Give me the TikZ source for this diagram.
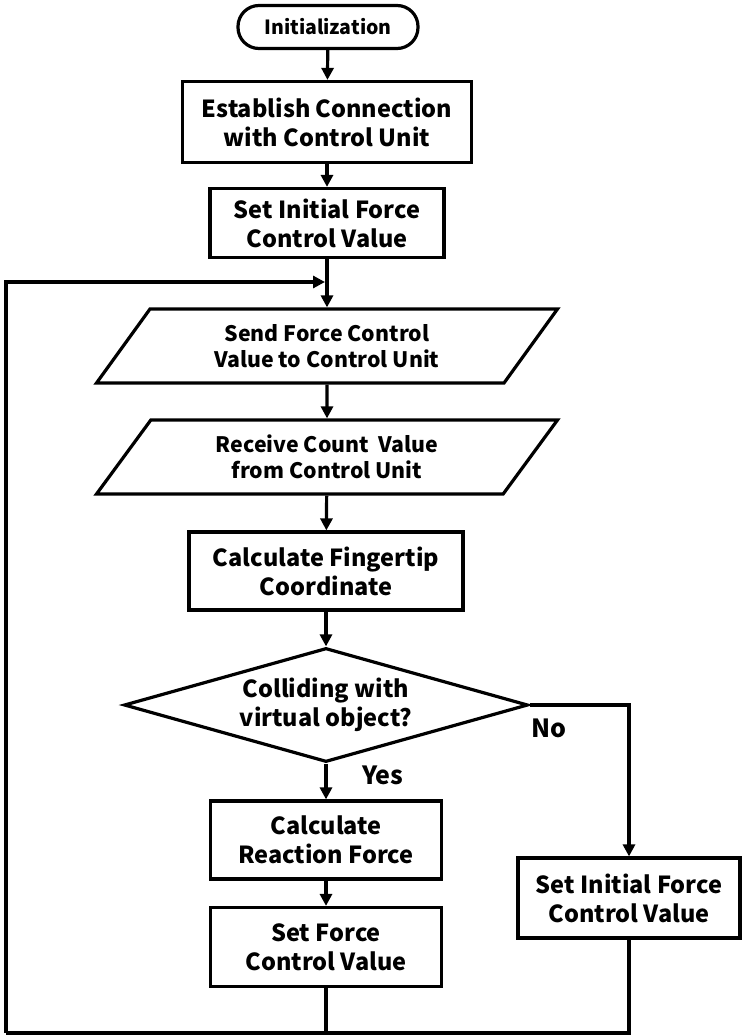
\documentclass[tikz,border=0pt]{standalone}
\usepackage{fontspec}
\setmainfont{Noto Sans CJK JP}
\usepackage{tikz}
\usetikzlibrary{positioning, arrows.meta, shapes.geometric}

\tikzset{
  flow/.style={line width=3.2pt, -{Triangle[length=12pt,width=12pt]}},
  plainline/.style={line width=3.2pt},
  boxtext/.style={align=center, font=\fontsize{23.5}{29}\selectfont\bfseries, inner sep=0pt},
  procbox/.style={draw, line width=3.2pt, boxtext},
  termbox/.style={draw, line width=3.2pt, align=center, inner sep=0pt,
    font=\fontsize{19.5}{24}\selectfont\bfseries, rounded corners=21pt,
    minimum width=180pt, minimum height=43pt},
  iobox/.style={draw, trapezium, trapezium left angle=39, trapezium right angle=141,
    trapezium stretches body, line width=3.2pt, align=center,
    font=\fontsize{21.3}{26}\selectfont\bfseries, inner sep=0pt,
    minimum height=74pt, minimum width=461pt},
  decbox/.style={draw, diamond, aspect=3.54, line width=3.2pt, boxtext,
    minimum width=404pt, minimum height=114pt},
  answer/.style={font=\fontsize{25}{30}\selectfont\bfseries}
}

\begin{document}
\begin{tikzpicture}[x=1pt, y=-1pt]
\useasboundingbox (0,0) rectangle (742,1035);
% main column
\node[termbox] (init) at (328,27) {Initialization};
\node[procbox, minimum width=289pt, minimum height=81pt] (connect) at (327,122) {Establish Connection\\with Control Unit};
\node[procbox, minimum width=234pt, minimum height=69pt] (setinit) at (327,223) {Set Initial Force\\Control Value};
\node[iobox] (send) at (327,346) {Send Force Control\\Value to Control Unit};
\node[iobox] (receive) at (327,457) {Receive Count\ \ Value\\from Control Unit};
\node[procbox, minimum width=274pt, minimum height=78pt] (finger) at (326,571) {Calculate Fingertip\\Coordinate};
\node[decbox] (collide) at (326,705) {Colliding with\\virtual object?};
\node[procbox, minimum width=231pt, minimum height=78pt] (reaction) at (326,840) {Calculate\\Reaction Force};
\node[procbox, minimum width=231pt, minimum height=79pt] (setforce) at (326,947) {Set Force\\Control Value};
% no branch
\node[procbox, minimum width=222pt, minimum height=80pt] (reset) at (629,898) {Set Initial Force\\Control Value};
\node[answer] (no) at (549,728) {No};
\node[answer] (yes) at (383,775) {Yes};
% loop corners
\coordinate (bottomleft) at (6,1033);
\coordinate (loopin) at (325,282);

\draw[flow] (init) -- (connect);
\draw[flow] (connect) -- (setinit);
\draw[flow] (setinit) -- (send);
\draw[flow] (send) -- (receive);
\draw[flow] (receive) -- (finger);
\draw[flow] (finger) -- (collide);
\draw[flow] (collide) -- (reaction);
\draw[flow] (reaction) -- (setforce);
\draw[flow] (collide.east) -| (reset);
\draw[plainline] (reset.south) |- (bottomleft);
\draw[plainline] (setforce.south) -- (setforce.south |- bottomleft);
\draw[flow] (bottomleft) |- (loopin);
\end{tikzpicture}
\end{document}
